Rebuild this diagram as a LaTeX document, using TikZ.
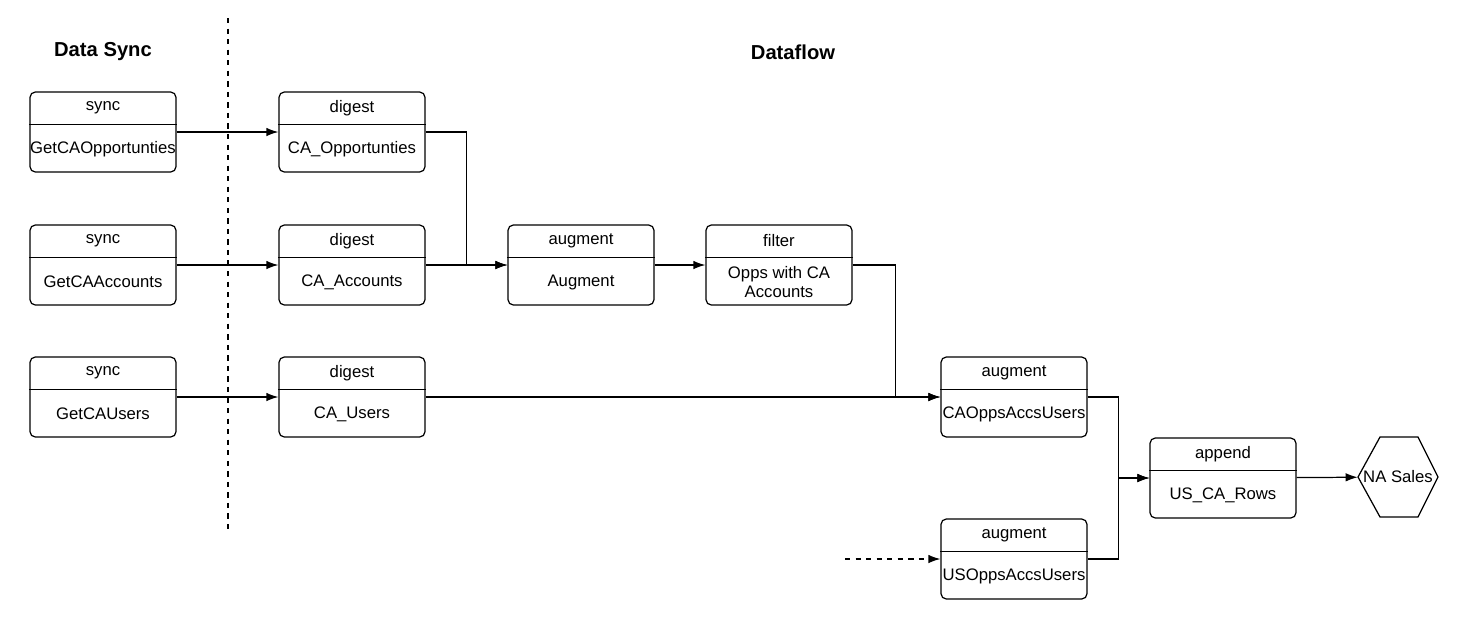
\documentclass[tikz,border=0pt]{standalone}
\usepackage{fontspec}
\setmainfont{Liberation Sans}
\usetikzlibrary{arrows.meta,positioning,calc}
\tikzset{
  box/.style={rectangle, draw, rounded corners=3pt, line width=0.7pt, minimum width=2.92cm, minimum height=1.6cm, inner sep=0pt},
  txt/.style={font=\fontsize{9.5}{11}\selectfont, align=center, inner sep=1pt},
  flow/.style={-{Latex[length=2.4mm,width=1.7mm]}, line width=0.7pt},
  title/.style={font=\fontsize{11.5}{13}\selectfont\bfseries}
}
% operator box: name, left x, top y, header, body
\newcommand{\opbox}[5]{%
  \node[box] (#1) at (#2+73,#3+40) {};
  \draw[line width=0.7pt] ($(#1.north west)+(0,33)$) -- ($(#1.north east)+(0,33)$);
  \node[txt] (#1-h) at ($(#1.north)+(0,16.5)$) {#4};
  \node[txt] (#1-b) at ($(#1.south)+(0,-23.5)$) {#5};
}
\begin{document}
\begin{tikzpicture}[x=0.02cm, y=-0.02cm]
    \useasboundingbox (0,0) rectangle (1477,620);
    \node[title] (synctitle) at (103,52) {Data Sync};
    \node[title] (flowtitle) at (793,52) {Dataflow};
    \coordinate (divtop) at (228,18);
    \coordinate (divbot) at (228,533);
    \draw[dashed, line width=0.7pt] (divtop) -- (divbot);

    \opbox{syncopp}{30}{92}{sync}{GetCAOpportunties}
    \opbox{syncacc}{30}{225}{sync}{GetCAAccounts}
    \opbox{syncusr}{30}{357}{sync}{GetCAUsers}
    \opbox{digopp}{279}{92}{digest}{CA\_Opportunties}
    \opbox{digacc}{279}{225}{digest}{CA\_Accounts}
    \opbox{digusr}{279}{357}{digest}{CA\_Users}
    \opbox{augment}{508}{225}{augment}{Augment}
    \opbox{filter}{706}{225}{filter}{Opps with CA\\Accounts}
    \opbox{caopps}{941}{357}{augment}{CAOppsAccsUsers}
    \opbox{usopps}{941}{519}{augment}{USOppsAccsUsers}
    \opbox{append}{1150}{438}{append}{US\_CA\_Rows}

    % output dataset
    \node[txt, minimum width=1.6cm, minimum height=1.6cm] (sales) at (1398,477) {NA Sales};
    \draw[line width=0.7pt] (1358,477) -- (1380,437) -- (1418,437) -- (1438,477) -- (1418,517) -- (1380,517) -- cycle;

    \coordinate (usin) at (845,559);

    \draw[flow] (syncopp) -- (digopp);
    \draw[flow] (syncacc) -- (digacc);
    \draw[flow] (syncusr) -- (digusr);
    \draw[flow] (digopp.east) -- ++(41,0) |- (augment.west);
    \draw[flow] (digacc) -- (augment);
    \draw[flow] (augment) -- (filter);
    \draw[flow] (filter.east) -- ++(43,0) |- (caopps.west);
    \draw[flow] (digusr) -- (caopps);
    \draw[flow] (caopps.east) -- ++(31,0) |- (append.west);
    \draw[flow] (usopps.east) -- ++(31,0) |- (append.west);
    \draw[flow, dashed] (usin) -- (usopps);
    \draw[flow] (append) -- (sales);
\end{tikzpicture}
\end{document}
